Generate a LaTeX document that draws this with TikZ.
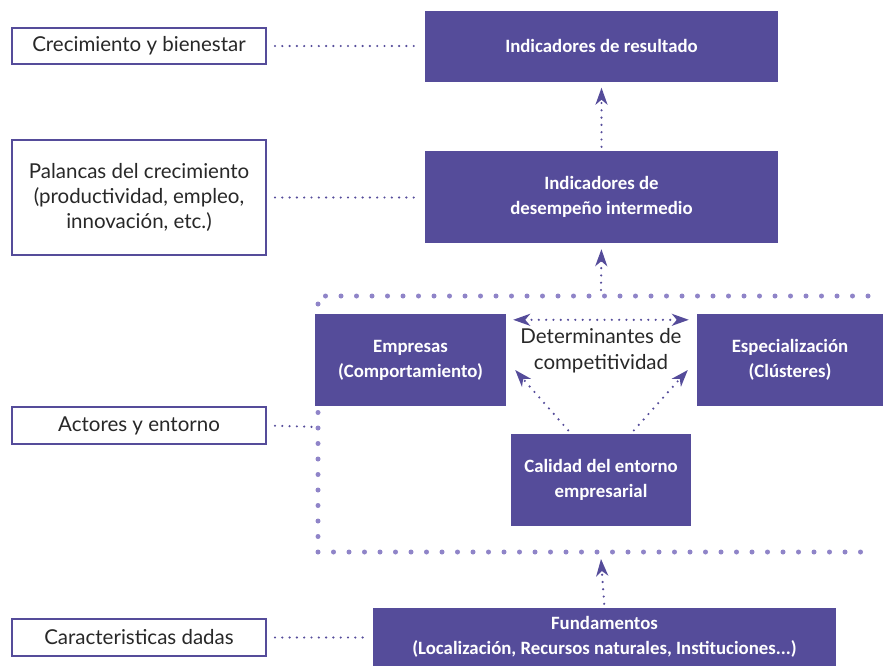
\documentclass[tikz,border=0pt]{standalone}
\usepackage{fontspec}
\setmainfont{Lato}
\newfontfamily\boxfont{Carlito}
\usetikzlibrary{arrows.meta}
\definecolor{pdark}{RGB}{85,76,154}
\definecolor{plight}{RGB}{143,132,200}
\definecolor{ltext}{RGB}{40,40,40}
\tikzset{
  bluebox/.style={fill=pdark, draw=none, text=white, align=center,
    font=\boxfont\bfseries\fontsize{18.8}{25}\selectfont, inner sep=0pt},
  labelbox/.style={draw=pdark, line width=2pt, fill=white, text=ltext, align=center,
    font=\fontsize{20.5}{25}\selectfont, inner sep=0pt, minimum width=254pt},
  con/.style={pdark, line width=2.4pt, line cap=round, dash pattern=on 0pt off 7.3pt},
  bigdots/.style={plight, line width=5pt, line cap=round, dash pattern=on 0pt off 15.5pt},
  tip/.style={},
  arr/.style={pdark, line width=2.4pt, line cap=round, dash pattern=on 0pt off 7.3pt,
    -{Stealth[length=17pt,width=12pt,inset=5pt]}},
  darr/.style={pdark, line width=2.4pt, line cap=round, dash pattern=on 0pt off 7.3pt,
    {Stealth[length=17pt,width=12pt,inset=5pt]}-{Stealth[length=17pt,width=12pt,inset=5pt]}}
}
\begin{document}
\begin{tikzpicture}[x=1pt,y=-1pt]
\useasboundingbox (0,0) rectangle (883,665);

% big dotted frame
\coordinate (ftl) at (318,296);
\coordinate (fbl) at (318,552);
\coordinate (ftr) at (868,296);
\coordinate (fbr) at (868,552);
\draw[bigdots] (ftr) -- (ftl) -- (fbl) -- (fbr);

% main boxes
\node[bluebox, minimum width=353pt, minimum height=71pt] (res) at (601.5,46) {Indicadores de resultado};
\node[bluebox, minimum width=353pt, minimum height=92pt] (des) at (601.5,197) {Indicadores de\\desempeño intermedio};
\node[bluebox, minimum width=191pt, minimum height=92pt] (emp) at (410.5,360) {Empresas\\(Comportamiento)};
\node[bluebox, minimum width=186pt, minimum height=92pt] (esp) at (790,360) {Especialización\\(Clústeres)};
\node[bluebox, minimum width=180pt, minimum height=92pt] (cal) at (601,480) {Calidad del entorno\\empresarial};
\node[bluebox, minimum width=463pt, minimum height=58pt] (fun) at (604.5,637) {Fundamentos\\(Localización, Recursos naturales, Instituciones...)};

\node[text=ltext, align=center, font=\fontsize{20.5}{26}\selectfont, inner sep=0pt] (det) at (601,351) {Determinantes de\\competitividad};

% label boxes
\node[labelbox, minimum height=36pt] (lab1) at (139,46) {Crecimiento y bienestar};
\node[labelbox, minimum height=115pt] (lab2) at (139,197.5) {Palancas del crecimiento\\(productividad, empleo,\\innovación, etc.)};
\node[labelbox, minimum height=37pt] (lab3) at (139,425.5) {Actores y entorno};
\node[labelbox, minimum height=37pt] (lab4) at (139,637.5) {Caracteristicas dadas};

% label connectors
\coordinate (fl) at (318,427);
\draw[con, shorten <=8pt, shorten >=7pt] (lab1.east) -- (res.west);
\draw[con, shorten <=8pt, shorten >=7pt] (lab2.east) -- (res.west |- lab2.east);
\draw[con, shorten <=8pt, shorten >=6pt] (lab3.east) -- (fl);
\draw[con, shorten <=8pt, shorten >=6pt] (lab4.east) -- (fun.west |- lab4.east);

% arrows
\coordinate (ft) at (601,290);
\coordinate (fb) at (601,559);
\draw[arr, shorten <=4pt, shorten >=6pt] (des.north) -- (res.south);
\draw[arr, shorten >=6pt] (ft) -- (des.south);
\draw[arr, shorten <=4pt] (fun.north) -- (fb);
\draw[darr] ([xshift=7pt,yshift=-6pt]emp.north east) -- ([xshift=-8pt,yshift=-6pt]esp.north west);
\draw[arr] ([xshift=-28pt,yshift=-2pt]cal.north) -- ([xshift=9pt,yshift=-10pt]emp.east);
\draw[arr] ([xshift=28pt,yshift=-2pt]cal.north) -- ([xshift=-9pt,yshift=-10pt]esp.west);
\end{tikzpicture}
\end{document}
